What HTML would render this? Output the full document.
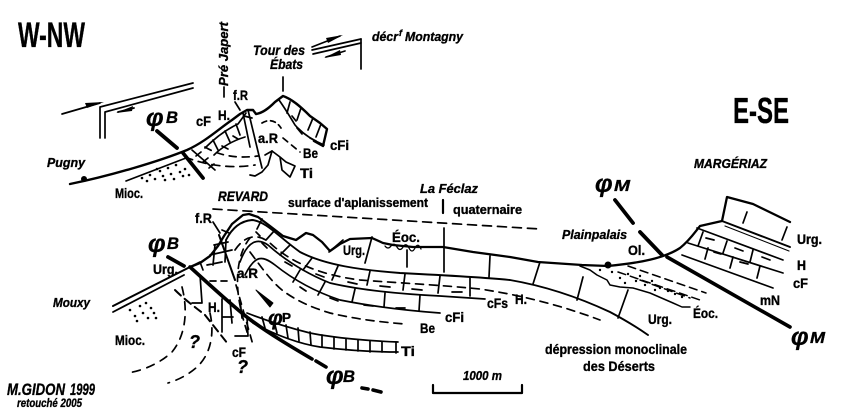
<!DOCTYPE html>
<html><head><meta charset="utf-8"><style>
html,body{margin:0;padding:0;background:#fff;}
svg{display:block;}
text{font-family:"Liberation Sans",Arial,sans-serif;font-weight:bold;fill:#000;stroke:#000;stroke-width:0.35;}
.i{font-style:italic;}
</style></head><body>
<svg width="850" height="416" viewBox="0 0 850 416" xmlns="http://www.w3.org/2000/svg">
<g fill="none" stroke="#000" stroke-width="1.7" stroke-linecap="round" stroke-linejoin="round">
<!-- ===== UPPER SECTION ===== -->
<path d="M62,114 L100,103"/>
<path d="M100,138 L100,107 L193,83"/>
<path d="M105,138 L105,112 L193,88"/>
<path d="M118,112 L134,108"/>
<path d="M312,47 L340,36"/>
<path d="M312,50 L361,39"/>
<path d="M313,54 L361,43"/>
<path d="M326,57 L345,51"/>
<path d="M361,39 L361,69"/>
<path d="M224,87 L224,97"/>
<path d="M235,102 L240,110"/>
<path d="M283,77 L283,91"/>
<path d="M70,184 C110,176 160,161 187,150 C205,142 220,128 232,120 L240,114 L247,110 L253,110 L256,114 C263,113 269,108 275,102 L283,96 C292,99 301,107 310,116 L320,123 L327,129 L323,146 L314,141" stroke-width="2.4"/>
<path d="M126,181 L186,158"/>
<path d="M205,148 C215,138 225,130 238,124 L246,113"/>
<path d="M214,155 C222,147 232,141 245,137"/>
<path d="M213,140 L218,150 M225,131 L230,142 M236,124 L240,135 M244,116 L252,118"/>
<path d="M222,146 L228,149 M233,136 L238,139" />
<path d="M185,157 C205,165 230,169 255,165" stroke-dasharray="8 6"/>
<path d="M205,147 C218,155 235,159 258,156" stroke-dasharray="7 6"/>
<path d="M248,110 L262,168"/>
<path d="M243,113 L250,147"/>
<path d="M279,100 C284,107 289,115 295,125 C302,133 312,140 324,145"/>
<path d="M290,102 L287,113 M301,108 L297,120 M313,118 L308,130 M321,124 L316,137"/>
<path d="M297,128 L302,134 M310,138 L316,141 M292,116 L296,121"/>
<path d="M262,123 C268,119 276,120 281,128" stroke-dasharray="5 4"/>
<path d="M283,138 L300,152" stroke-dasharray="6 5"/>
<path d="M265,155 L272,151 L280,157 L282,170 L290,177 L295,166 L286,162 L280,157"/>
<path d="M272,151 L268,165 L262,172 L255,176 L250,175"/>
<path d="M157,131 L177,148 M183,153 L203,178" stroke-width="3.8"/>
<path d="M192,150 L215,170 M196,156 L201,152 M203,162 L208,158 M209,168 L214,164"/>
<!-- ===== LOWER SECTION ===== -->
<path d="M113,306 L190,267" stroke-width="2"/>
<path d="M113,312 L184,275" stroke-width="1.8"/>
<path d="M168,257 L184,266" stroke-width="3.8"/>
<path d="M190,267 L200,263 L210,256 L218,246 L224,236 L232,224 L243,215 L249,214 L258,217 L270,226 L283,236 L296,240 L306,233 L313,235 L322,242 L330,251 L340,244 L350,239 L372,238 L383,243 L393,245 L413,247 L443,247 L473,252 L510,257 L538,262 L582,265 L608,266 C640,263 665,258 680,248 C690,240 695,232 700,226 L722,221 L727,197 L753,204 L790,222" stroke-width="2.3"/>
<path d="M385,246 q3,4 6,0 t6,1 t6,0 t6,1 t6,0 t6,1" stroke-width="1.3"/>
<path d="M329,252 L343,240 M365,263 L372,237 M407,250 L407,267 M444,228 L444,272 M490,256 L489,277 M540,262 L533,284 M583,277 L577,300 M628,290 L618,318"/>
<path d="M213,209 L540,229" stroke-dasharray="9 6"/>
<path d="M443,200 L443,213" stroke-width="2.2"/>
<path d="M226,240 C232,228 240,221 252,220 C266,221 280,238 300,252 C325,265 360,270 400,273 C440,275 480,277 510,280 C545,286 580,298 610,312 C625,320 638,328 648,335" stroke-width="1.9"/>
<path d="M235,250 C245,235 258,233 270,243 C290,262 320,275 360,280 C400,283 440,285 480,289 C520,295 560,305 600,320" stroke-dasharray="8 6"/>
<path d="M240,262 C248,240 258,238 268,245 C285,260 305,273 330,283 C360,290 400,294 440,296 L485,299"/>
<path d="M245,275 C255,255 262,255 275,265 C290,277 310,290 340,300 C370,306 400,310 440,313"/>
<path d="M250,252 C262,268 270,280 282,290 C295,300 310,307 330,313 C355,319 380,322 405,324" stroke-dasharray="8 6"/>
<path d="M262,219 L257,229 M275,230 L266,240 M290,245 L280,255 M312,258 L303,270 M338,266 L332,280 M370,271 L367,285 M405,274 L403,290 M440,276 L438,293 M470,278 L470,296"/>
<path d="M300,270 L293,282 M325,282 L318,295 M355,289 L352,302 M385,293 L384,307 M420,295 L419,311"/>
<path d="M285,262 L292,266 M316,274 L324,277 M348,282 L357,284 M380,286 L390,287 M412,289 L422,290 M452,292 L462,292 M300,287 L306,291 M330,298 L338,301 M364,305 L373,306 M396,308 L405,308"/>
<path d="M262,243 L267,248 M256,232 L260,236"/>
<path d="M247,313 C265,320 290,328 310,333 C335,338 370,341 398,342"/>
<path d="M253,323 C270,332 295,343 320,347 C345,350 375,352 398,352"/>
<path d="M262,317 L265,328 M274,321 L277,333 M286,325 L288,338 M298,328 L299,341 M310,332 L311,345 M322,335 L322,347 M334,337 L334,349 M346,339 L346,350 M358,340 L358,351 M370,341 L370,352 M382,342 L382,352 M396,342 L396,353"/>
<polygon points="256,290 273,303 270,307" fill="#000" stroke-width="1"/>
<path d="M250,238 C240,250 236,270 238,292 C240,310 244,322 248,335" stroke-dasharray="7 6"/>
<path d="M213,222 L220,233"/>
<path d="M219,235 L235,280" stroke-width="2"/>
<path d="M236,285 L253,345" stroke-dasharray="7 6"/>
<path d="M210,255 L232,250 M214,245 L228,242 M207,265 L222,262 M215,245 L213,265 M226,240 L225,262 M222,230 L229,233"/>
<path d="M210,281 L232,281" stroke-dasharray="6 5"/>
<path d="M190,267 C210,285 228,302 248,318 C268,333 290,346 312,359" stroke-width="3.6"/>
<path d="M316,361 L326,367 M362,388 L368,389 M373,390 L381,392" stroke-width="3.6"/>
<path d="M192,266 L200,262 L203,270 M200,275 L202,303 M192,303 L202,303"/>
<path d="M222,299 L222,332 M230,300 L232,323 M222,317 L233,317 M240,300 L242,318 M247,317 L248,336 M235,336 L248,336"/>
<path d="M175,290 C185,300 195,307 205,315 L228,344" stroke-dasharray="8 5" stroke-width="2"/>
<path d="M182,287 C188,310 186,335 172,352 C160,363 145,370 128,373" stroke-dasharray="8 7"/>
<path d="M210,313 C215,335 210,355 197,367 C188,375 178,380 168,383" stroke-dasharray="8 7"/>
<path d="M667,257 L790,327" stroke-width="3.6"/>
<path d="M615,200 L633,223 M640,232 L662,255" stroke-width="3.8"/>
<path d="M722,221 L790,247" stroke-width="1.9"/>
<path d="M725,226 L789,251" stroke-width="1.1"/>
<path d="M697,228 L783,260"/>
<path d="M688,243 L783,273"/>
<path d="M682,255 L773,288"/>
<path d="M747,212 L743,223 M787,227 L782,240 M703,232 L698,246 M727,241 L723,253 M753,250 L750,262 M708,248 L705,259 M733,257 L730,268 M760,266 L757,278"/>
<path d="M706,238 L714,240 M735,248 L743,251 M762,257 L770,260 M714,252 L721,254 M740,262 L748,264"/>
<path d="M580,266 L590,270 L597,275 L607,280 L610,285 L620,287 L633,288 L650,293 L673,303 L682,307 L690,307" stroke-width="1.5"/>
<path d="M628,266 L706,293 M618,272 L700,300 M640,280 L690,298" stroke-dasharray="8 5" stroke-width="1.5"/>
<path d="M433,385 L433,393 L522,393 L522,385" stroke-width="2.2"/>
</g>
<g fill="#000">
<polygon points="104,102 85,103 87,108"/>
<polygon points="116,113 133,106 132,111"/>
<polygon points="343,35 326,38 328,43"/>
<polygon points="324,58 340,50 341,55"/>
<circle cx="84" cy="179" r="3"/>
<circle cx="608" cy="265" r="3.5"/>
<g>
<circle cx="142" cy="178" r="1.3"/><circle cx="150" cy="175" r="1.3"/><circle cx="155" cy="179" r="1.3"/><circle cx="160" cy="171" r="1.3"/><circle cx="163" cy="176" r="1.3"/><circle cx="168" cy="168" r="1.3"/><circle cx="171" cy="174" r="1.3"/><circle cx="176" cy="165" r="1.3"/><circle cx="180" cy="172" r="1.3"/><circle cx="185" cy="169" r="1.3"/><circle cx="189" cy="175" r="1.3"/><circle cx="147" cy="181" r="1.3"/><circle cx="157" cy="169" r="1.3"/><circle cx="174" cy="179" r="1.3"/><circle cx="183" cy="176" r="1.3"/><circle cx="165" cy="180" r="1.3"/>
<circle cx="130" cy="310" r="1.3"/><circle cx="135" cy="316" r="1.3"/><circle cx="140" cy="306" r="1.3"/><circle cx="143" cy="313" r="1.3"/><circle cx="148" cy="318" r="1.3"/><circle cx="151" cy="308" r="1.3"/><circle cx="154" cy="313" r="1.3"/><circle cx="137" cy="321" r="1.3"/><circle cx="146" cy="303" r="1.3"/><circle cx="156" cy="318" r="1.3"/>
<circle cx="612" cy="272" r="1.2"/><circle cx="620" cy="278" r="1.2"/><circle cx="628" cy="274" r="1.2"/><circle cx="636" cy="281" r="1.2"/><circle cx="645" cy="285" r="1.2"/><circle cx="652" cy="281" r="1.2"/><circle cx="660" cy="288" r="1.2"/><circle cx="668" cy="291" r="1.2"/><circle cx="675" cy="294" r="1.2"/><circle cx="682" cy="297" r="1.2"/><circle cx="640" cy="276" r="1.2"/><circle cx="655" cy="290" r="1.2"/><circle cx="625" cy="283" r="1.2"/><circle cx="600" cy="270" r="1.2"/>
</g>
</g>
<g>
<text x="18" y="47" font-size="35" textLength="67" lengthAdjust="spacingAndGlyphs">W-NW</text>
<text x="733" y="123" font-size="36" textLength="56" lengthAdjust="spacingAndGlyphs">E-SE</text>
<text class="i" x="372" y="41" font-size="13" textLength="26" lengthAdjust="spacingAndGlyphs">décr</text>
<text class="i" x="399" y="36" font-size="9">f</text>
<text class="i" x="405" y="41" font-size="13" textLength="58" lengthAdjust="spacingAndGlyphs">Montagny</text>
<text class="i" x="253" y="55" font-size="14" textLength="52" lengthAdjust="spacingAndGlyphs">Tour des</text>
<text class="i" x="270" y="69" font-size="14" textLength="33" lengthAdjust="spacingAndGlyphs">Ébats</text>
<text class="i" transform="translate(228,86) rotate(-90)" font-size="13" textLength="64" lengthAdjust="spacingAndGlyphs">Pré Japert</text>
<text x="233" y="100" font-size="14" textLength="15" lengthAdjust="spacingAndGlyphs">f.R</text>
<text x="218" y="120" font-size="14" textLength="12" lengthAdjust="spacingAndGlyphs">H.</text>
<text x="196" y="126" font-size="14" textLength="15" lengthAdjust="spacingAndGlyphs">cF</text>
<text class="i" x="146" y="126" font-size="25">φ</text>
<text class="i" x="166" y="123" font-size="17" textLength="12" lengthAdjust="spacingAndGlyphs">B</text>
<text x="258" y="143" font-size="14" textLength="20" lengthAdjust="spacingAndGlyphs">a.R</text>
<text x="303" y="158" font-size="14" textLength="15" lengthAdjust="spacingAndGlyphs">Be</text>
<text x="330" y="150" font-size="14" textLength="19" lengthAdjust="spacingAndGlyphs">cFi</text>
<text x="300" y="178" font-size="14" textLength="13" lengthAdjust="spacingAndGlyphs">Ti</text>
<text class="i" x="47" y="167" font-size="13" textLength="38" lengthAdjust="spacingAndGlyphs">Pugny</text>
<text x="115" y="198" font-size="14" textLength="28" lengthAdjust="spacingAndGlyphs">Mioc.</text>
<text class="i" x="218" y="201" font-size="14" textLength="50" lengthAdjust="spacingAndGlyphs">REVARD</text>
<text class="i" x="420" y="193" font-size="13" textLength="58" lengthAdjust="spacingAndGlyphs">La Féclaz</text>
<text x="288" y="207" font-size="13" textLength="140" lengthAdjust="spacingAndGlyphs">surface d'aplanissement</text>
<text x="453" y="214" font-size="13" textLength="69" lengthAdjust="spacingAndGlyphs">quaternaire</text>
<text x="392" y="242" font-size="14" textLength="28" lengthAdjust="spacingAndGlyphs">Éoc.</text>
<text x="343" y="255" font-size="14" textLength="22" lengthAdjust="spacingAndGlyphs">Urg.</text>
<text x="487" y="308" font-size="14" textLength="21" lengthAdjust="spacingAndGlyphs">cFs</text>
<text x="515" y="304" font-size="14" textLength="12" lengthAdjust="spacingAndGlyphs">H.</text>
<text x="445" y="322" font-size="14" textLength="19" lengthAdjust="spacingAndGlyphs">cFi</text>
<text x="420" y="333" font-size="14" textLength="15" lengthAdjust="spacingAndGlyphs">Be</text>
<text x="401" y="356" font-size="14" textLength="14" lengthAdjust="spacingAndGlyphs">Ti</text>
<text class="i" x="268" y="325" font-size="21">φ</text>
<text x="282" y="322" font-size="13" textLength="9" lengthAdjust="spacingAndGlyphs">P</text>
<text x="237" y="278" font-size="14" textLength="21" lengthAdjust="spacingAndGlyphs">a.R</text>
<text x="195" y="223" font-size="14" textLength="17" lengthAdjust="spacingAndGlyphs">f.R</text>
<text class="i" x="148" y="252" font-size="25">φ</text>
<text class="i" x="167" y="249" font-size="17" textLength="12" lengthAdjust="spacingAndGlyphs">B</text>
<text x="153" y="274" font-size="14" textLength="25" lengthAdjust="spacingAndGlyphs">Urg.</text>
<text class="i" x="53" y="307" font-size="13" textLength="37" lengthAdjust="spacingAndGlyphs">Mouxy</text>
<text x="115" y="345" font-size="14" textLength="30" lengthAdjust="spacingAndGlyphs">Mioc.</text>
<text class="i" x="189" y="348" font-size="18">?</text>
<text class="i" x="237" y="373" font-size="18">?</text>
<text x="208" y="312" font-size="14" textLength="12" lengthAdjust="spacingAndGlyphs">H.</text>
<text x="232" y="357" font-size="14" textLength="14" lengthAdjust="spacingAndGlyphs">cF</text>
<text class="i" x="326" y="384" font-size="25">φ</text>
<text class="i" x="343" y="382" font-size="17" textLength="12" lengthAdjust="spacingAndGlyphs">B</text>
<text class="i" x="7" y="395" font-size="17" textLength="58" lengthAdjust="spacingAndGlyphs">M.GIDON</text>
<text class="i" x="70" y="395" font-size="17" textLength="25" lengthAdjust="spacingAndGlyphs">1999</text>
<text class="i" x="17" y="407" font-size="12" textLength="65" lengthAdjust="spacingAndGlyphs">retouché 2005</text>
<text class="i" x="562" y="239" font-size="13" textLength="65" lengthAdjust="spacingAndGlyphs">Plainpalais</text>
<text x="628" y="255" font-size="14" textLength="17" lengthAdjust="spacingAndGlyphs">Ol.</text>
<text class="i" x="595" y="192" font-size="25">φ</text>
<text class="i" x="614" y="191" font-size="16" textLength="16" lengthAdjust="spacingAndGlyphs">M</text>
<text class="i" x="694" y="168" font-size="13" textLength="73" lengthAdjust="spacingAndGlyphs">MARGÉRIAZ</text>
<text x="797" y="244" font-size="14" textLength="25" lengthAdjust="spacingAndGlyphs">Urg.</text>
<text x="797" y="270" font-size="14" textLength="9" lengthAdjust="spacingAndGlyphs">H</text>
<text x="793" y="288" font-size="14" textLength="15" lengthAdjust="spacingAndGlyphs">cF</text>
<text x="760" y="305" font-size="14" textLength="20" lengthAdjust="spacingAndGlyphs">mN</text>
<text x="693" y="318" font-size="14" textLength="25" lengthAdjust="spacingAndGlyphs">Éoc.</text>
<text x="648" y="324" font-size="14" textLength="24" lengthAdjust="spacingAndGlyphs">Urg.</text>
<text class="i" x="791" y="345" font-size="25">φ</text>
<text class="i" x="810" y="343" font-size="16" textLength="15" lengthAdjust="spacingAndGlyphs">M</text>
<text x="545" y="354" font-size="14" textLength="142" lengthAdjust="spacingAndGlyphs">dépression monoclinale</text>
<text x="583" y="371" font-size="14" textLength="72" lengthAdjust="spacingAndGlyphs">des Déserts</text>
<text class="i" x="463" y="380" font-size="13" textLength="39" lengthAdjust="spacingAndGlyphs">1000 m</text>
</g>
</svg>
</body></html>
